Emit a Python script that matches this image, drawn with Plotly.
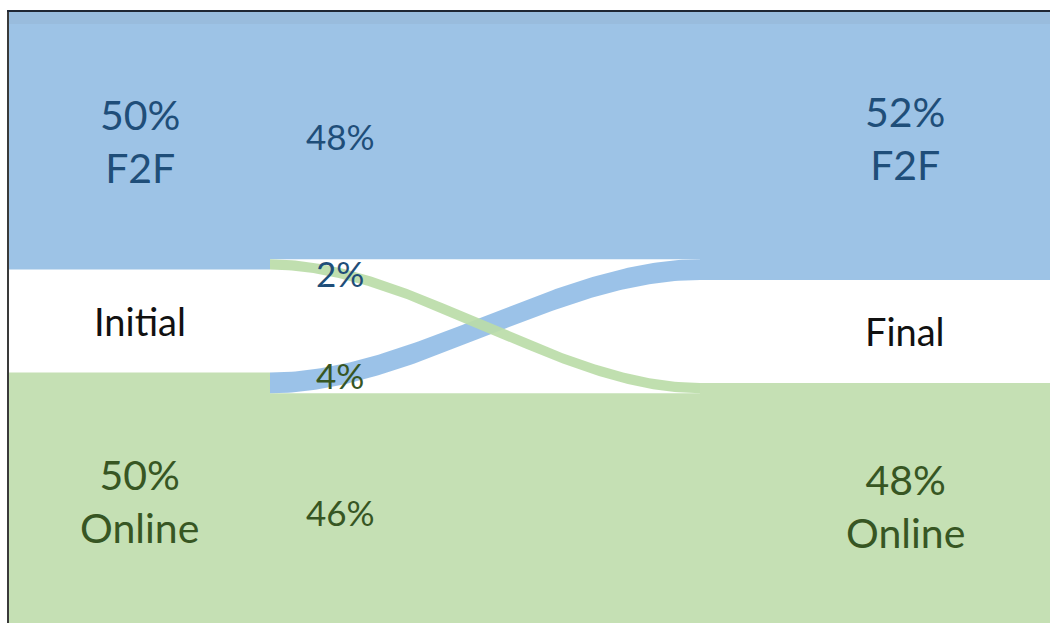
import numpy as np
import plotly.graph_objects as go

# ---------------- data ----------------
stages = ["Initial", "Final"]
modes = ["F2F", "Online"]
initial_share = [50, 50]          # % at start
final_share = [52, 48]            # % at end
flow_source = ["F2F", "F2F", "Online", "Online"]
flow_target = ["F2F", "Online", "F2F", "Online"]
flow_value = [48, 2, 4, 46]

# ---------------- styles / layout constants ----------------
GAP = 20                      # gap between nodes (same units as %)
NODE_COLOR = {"F2F": "#9DC3E6", "Online": "#C5E0B4"}
CROSS_COLOR = {"F2F": "#93BDE6", "Online": "#BBDCA8"}
TEXT_COLOR = {"F2F": "#1F4E79", "Online": "#375623"}
FONT = "Lato"
LEFT_COL = (9, 270)
RIGHT_COL = (700, 1110)
LINK_LABEL_X = 340
Y_MAX = 118.6

fig = go.Figure()


def stack(shares):
    pos, y = {}, 0.0
    for m, v in zip(modes, shares):
        pos[m] = (y, y + v)
        y += v + GAP
    return pos


left_nodes = stack(initial_share)
right_nodes = stack(final_share)


def rect(x0, x1, y0, y1, color):
    fig.add_trace(go.Scatter(x=[x0, x1, x1, x0, x0], y=[y0, y0, y1, y1, y0],
                             mode="lines", fill="toself", fillcolor=color,
                             line=dict(width=0), hoverinfo="skip", showlegend=False))


# nodes
for m in modes:
    rect(LEFT_COL[0], LEFT_COL[1], *left_nodes[m], NODE_COLOR[m])
    rect(RIGHT_COL[0], RIGHT_COL[1], *right_nodes[m], NODE_COLOR[m])

# link attachment offsets
src_off = {m: left_nodes[m][0] for m in modes}
tgt_off = {m: right_nodes[m][0] for m in modes}
order_src = sorted(range(len(flow_value)), key=lambda i: (modes.index(flow_source[i]), modes.index(flow_target[i])))
src_pos = {}
for i in order_src:
    s = flow_source[i]
    src_pos[i] = (src_off[s], src_off[s] + flow_value[i])
    src_off[s] += flow_value[i]
order_tgt = sorted(range(len(flow_value)), key=lambda i: (modes.index(flow_target[i]), modes.index(flow_source[i])))
tgt_pos = {}
for i in order_tgt:
    t = flow_target[i]
    tgt_pos[i] = (tgt_off[t], tgt_off[t] + flow_value[i])
    tgt_off[t] += flow_value[i]

x0, x1 = LEFT_COL[1], RIGHT_COL[0]
xs = np.linspace(x0, x1, 120)


def sstep(x):
    s = np.clip((x - x0) / (x1 - x0), 0, 1)
    return 3 * s ** 2 - 2 * s ** 3


def edge(ya, yb, x):
    return ya + (yb - ya) * sstep(x)


# draw stay links first, then crossing links
draw_order = sorted(range(len(flow_value)), key=lambda i: (flow_source[i] != flow_target[i], flow_target[i] == "Online"))
for i in draw_order:
    (sa, sb), (ta, tb) = src_pos[i], tgt_pos[i]
    top = edge(sa, ta, xs)
    bot = edge(sb, tb, xs)
    cross = flow_source[i] != flow_target[i]
    color = CROSS_COLOR[flow_target[i]] if cross else NODE_COLOR[flow_target[i]]
    fig.add_trace(go.Scatter(x=np.concatenate([xs, xs[::-1]]),
                             y=np.concatenate([top, bot[::-1]]),
                             mode="lines", fill="toself", fillcolor=color,
                             opacity=0.92 if cross else 1.0,
                             line=dict(width=0), hoverinfo="skip", showlegend=False))
    # link label
    lx = np.array([LINK_LABEL_X])
    ly = float((edge(sa, ta, lx) + edge(sb, tb, lx))[0] / 2)
    fig.add_annotation(x=LINK_LABEL_X, y=ly, text=f"{flow_value[i]}%", showarrow=False,
                       font=dict(family=FONT, size=35, color=TEXT_COLOR[flow_source[i]]))

# node labels
for m, v in zip(modes, initial_share):
    y0, y1 = left_nodes[m]
    fig.add_annotation(x=sum(LEFT_COL) / 2, y=(y0 + y1) / 2, text=f"{v}%<br>{m}", showarrow=False,
                       font=dict(family=FONT, size=41, color=TEXT_COLOR[m]))
for m, v in zip(modes, final_share):
    y0, y1 = right_nodes[m]
    fig.add_annotation(x=sum(RIGHT_COL) / 2, y=(y0 + min(y1, Y_MAX + 1.2)) / 2 - (1.5 if m == "F2F" else 0),
                       text=f"{v}%<br>{m}", showarrow=False,
                       font=dict(family=FONT, size=41, color=TEXT_COLOR[m]))

# stage labels in the gaps
fig.add_annotation(x=sum(LEFT_COL) / 2, y=(left_nodes["F2F"][1] + left_nodes["Online"][0]) / 2,
                   text=stages[0], showarrow=False, font=dict(family=FONT, size=38, color="#111111"))
fig.add_annotation(x=sum(RIGHT_COL) / 2, y=(right_nodes["F2F"][1] + right_nodes["Online"][0]) / 2,
                   text=stages[1], showarrow=False, font=dict(family=FONT, size=38, color="#111111"))

# faint shadow strip under the top frame line
fig.add_shape(type="rect", xref="paper", yref="paper", x0=0, x1=1, y0=1 - 12 / 611, y1=1,
              fillcolor="rgba(140,160,185,0.20)", line=dict(width=0), layer="above")

fig.update_layout(
    width=1050, height=623,
    margin=dict(l=9, r=0, t=12, b=0),
    paper_bgcolor="white", plot_bgcolor="white",
    showlegend=False,
    xaxis=dict(range=[9, 1050], showgrid=False, zeroline=False, showticklabels=False,
               ticks="", showline=True, side="top", linecolor="#1f2633", linewidth=2, fixedrange=True),
    yaxis=dict(range=[Y_MAX, 0], showgrid=False, zeroline=False, showticklabels=False,
               ticks="", showline=True, linecolor="#3a3a3a", linewidth=2, fixedrange=True),
)

fig.write_html("out.html", config={"displayModeBar": False},
               post_script="document.documentElement.style.overflow='hidden';"
                           "document.body.style.overflow='hidden';document.body.style.margin='0';")
